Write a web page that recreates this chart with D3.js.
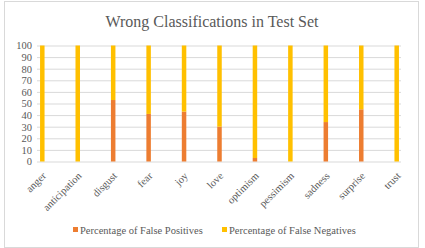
<!DOCTYPE html>
<html><head><meta charset="utf-8">
<script src="https://cdn.jsdelivr.net/npm/d3@7"></script>
<style>body{margin:0;background:#fff}svg{display:block}</style>
</head><body>
<svg id="c" width="425" height="248"></svg>
<script>
const categories = ["anger","anticipation","disgust","fear","joy","love","optimism","pessimism","sadness","surprise","trust"];
const falsePositives = [0,0,53,41,43,30,3,0,34,45,0];
const falseNegatives = [100,100,47,59,57,70,97,100,66,55,100];
const yTicks = [0,10,20,30,40,50,60,70,80,90,100];
const seriesNames = ["Percentage of False Positives","Percentage of False Negatives"];
const colors = ["#ED7D31","#FFC000"];

const svg = d3.select("#c");
const font = "'Liberation Serif','Times New Roman',serif";
const txt = "#595959";

svg.append("rect").attr("x",4.5).attr("y",1.5).attr("width",414).attr("height",246)
  .attr("fill","#fff").attr("stroke","#d9d9d9");

svg.append("text").attr("x",212).attr("y",27).attr("text-anchor","middle")
  .attr("font-family",font).attr("font-size",16).attr("fill",txt)
  .text("Wrong Classifications in Test Set");

const plotL = 37, plotR = 401;
const y = d3.scaleLinear().domain([0,100]).range([161.5,45.5]);
const x = d3.scalePoint().domain(categories).range([42.3,396.7]);
const bw = 4.5;

const gy = svg.append("g").attr("transform",`translate(${plotL},0)`)
  .call(d3.axisLeft(y).tickValues(yTicks).tickSize(-(plotR-plotL)).tickPadding(5));
gy.select(".domain").remove();
gy.selectAll(".tick line").attr("stroke","#d9d9d9");
gy.selectAll(".tick text").attr("font-family",font).attr("font-size",10.5).attr("fill",txt);

const stackData = categories.map((c,i)=>({cat:c, fp:falsePositives[i], fn:falseNegatives[i]}));
const stack = d3.stack().keys(["fp","fn"])(stackData);
stack.forEach((s,k)=>{
  svg.append("g").selectAll("rect").data(s).join("rect")
    .attr("x",d=>x(d.data.cat)-bw/2).attr("width",bw)
    .attr("y",d=>y(d[1])).attr("height",d=>y(d[0])-y(d[1]))
    .attr("fill",colors[k]);
});

const gx = svg.append("g").attr("transform",`translate(0,${y(0)})`)
  .call(d3.axisBottom(x).tickSize(0).tickPadding(0));
gx.select(".domain").remove();
gx.selectAll(".tick text").attr("font-family",font).attr("font-size",10.5).attr("fill",txt)
  .attr("text-anchor","end").attr("dy",0).attr("y",0)
  .attr("transform","translate(4,15) rotate(-45)");

const leg = [{x:73,t:80},{x:222,t:229}];
seriesNames.forEach((n,i)=>{
  svg.append("rect").attr("x",leg[i].x).attr("y",227).attr("width",5).attr("height",5).attr("fill",colors[i]);
  svg.append("text").attr("x",leg[i].t).attr("y",234).attr("font-family",font).attr("font-size",10.5)
    .attr("fill",txt).text(n);
});
</script>
</body></html>
